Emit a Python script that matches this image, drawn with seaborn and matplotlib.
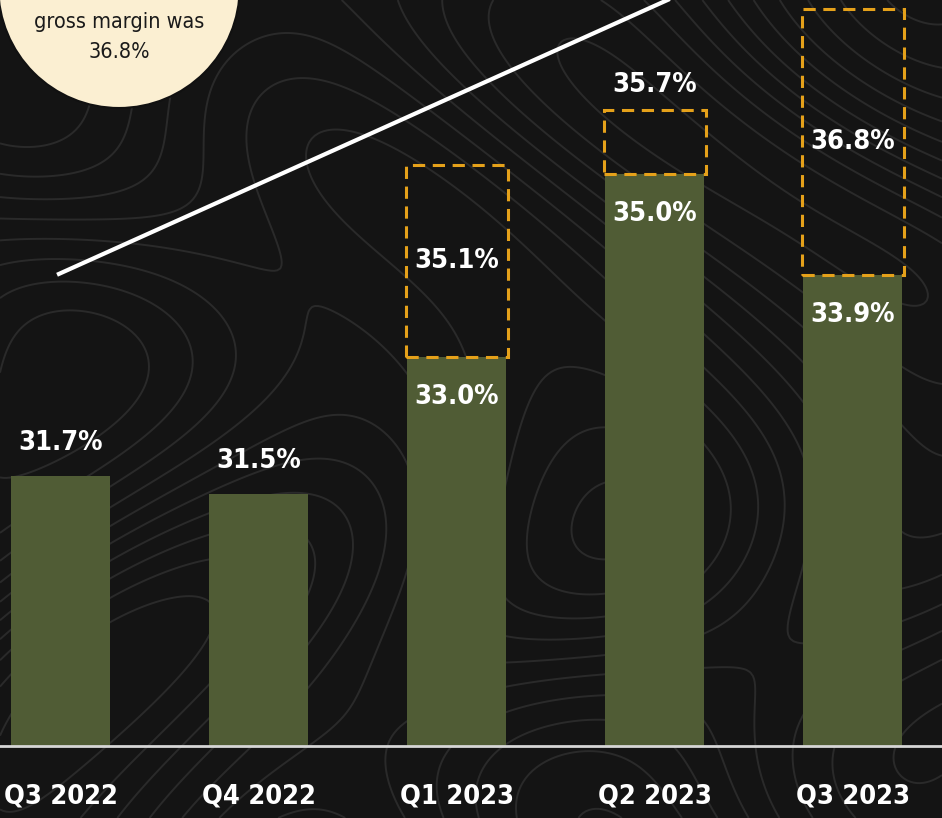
import matplotlib
matplotlib.use("Agg")
import matplotlib.pyplot as plt
from matplotlib import font_manager
from matplotlib.patches import Rectangle, Circle
from matplotlib.transforms import IdentityTransform
import numpy as np
import pandas as pd
import seaborn as sns

# data
quarters = ["Q3 2022", "Q4 2022", "Q1 2023", "Q2 2023", "Q3 2023"]
gross_margin = [31.7, 31.5, 33.0, 35.0, 33.9]
adjusted_margin = [None, None, 35.1, 35.7, 36.8]
callout_lines = ["gross margin was", "36.8%"]

BG = "#141414"
BAR = "#505c35"
BOX = "#e5a11a"


def weight_num(w):
    return w if isinstance(w, (int, float)) else font_manager.weight_dict.get(w, 400)


def narrow_bold_families():
    out = []
    for f in font_manager.fontManager.ttflist:
        narrow = "Narrow" in f.name or "Condensed" in f.name or "condensed" in str(f.stretch)
        if narrow and weight_num(f.weight) >= 700 and f.name not in out:
            out.append(f.name)
    return out


FONT = narrow_bold_families() + ["DejaVu Sans"]

sns.set_theme(style="white")
plt.rcParams["font.family"] = FONT
plt.rcParams["font.stretch"] = "condensed"

fig = plt.figure(figsize=(9.42, 8.18), dpi=100, facecolor=BG)

# faint contour texture behind the chart
bg = fig.add_axes([0, 0, 1, 1], zorder=0)
bg.set_facecolor(BG)
gx, gy = np.meshgrid(np.linspace(0, 10, 300), np.linspace(0, 9, 260))
field = (np.sin(gx * 0.9 + np.cos(gy * 0.7) * 1.8) + np.cos(gy * 0.8 - np.sin(gx * 0.5) * 1.5)
         + 0.5 * np.sin((gx + gy) * 0.6))
bg.contour(gx, gy, field, levels=14, colors="#2a2a2a", linewidths=1.4, linestyles="solid")
bg.set_axis_off()

ax = fig.add_axes([0, 72 / 818, 1, 746 / 818], zorder=1)
ax.set_facecolor("none")

df = pd.DataFrame({"quarter": quarters, "margin": gross_margin})
sns.barplot(data=df, x="quarter", y="margin", color=BAR, saturation=1, width=0.5,
            edgecolor="none", linewidth=0, ax=ax)

ax.set_ylim(28.75, 28.75 + 746 / 91.5)
ax.set_xlim(-61 / 198, 4 + 89 / 198)

# trend line
ax.plot([-0.02, 3.6], [33.9, 33.9 + 3.62 * 0.974], color="white", lw=3,
        solid_capstyle="butt", zorder=4)

label_kw = dict(color="white", fontsize=19.5, fontweight="bold", ha="center", va="center",
                textcoords="offset points", zorder=6)
for i, (g, adj) in enumerate(zip(gross_margin, adjusted_margin)):
    if adj is None:
        ax.annotate(f"{g:.1f}%", (i, g), xytext=(0, 24), **label_kw)
        continue
    ax.add_patch(Rectangle((i - 0.26, g), 0.52, adj - g, fill=False, edgecolor=BOX,
                           lw=2.2, ls=(0, (4, 2.5)), zorder=5))
    ax.annotate(f"{g:.1f}%", (i, g), xytext=(0, -29), **label_kw)
    if adj - g < 1:
        ax.annotate(f"{adj:.1f}%", (i, adj), xytext=(0, 18), **label_kw)
    else:
        ax.annotate(f"{adj:.1f}%", (i, (g + adj) / 2), xytext=(0, 0), **label_kw)

ax.set_xlabel("")
ax.set_ylabel("")
ax.set_yticks([])
ax.tick_params(axis="x", length=0, pad=27, labelsize=19.5, labelcolor="white")
for lab in ax.get_xticklabels():
    lab.set_fontweight("bold")
for side in ("top", "left", "right"):
    ax.spines[side].set_visible(False)
ax.spines["bottom"].set_color("#d6d6d6")
ax.spines["bottom"].set_linewidth(2)

# callout circle at top left (pixel coordinates)
W, H = 942, 818
circ = Circle((119, H + 12.7), 120.7, transform=IdentityTransform(),
              facecolor="#fbefd2", edgecolor="#111111", lw=1.5, zorder=10)
fig.patches.append(circ)
for txt, ypx in zip(callout_lines, [22, 52]):
    fig.text(119 / W, 1 - ypx / H, txt, ha="center", va="center", fontsize=15.5,
             color="#1a1a1a", zorder=11)

fig.savefig("out.png", dpi=100, facecolor=BG)
